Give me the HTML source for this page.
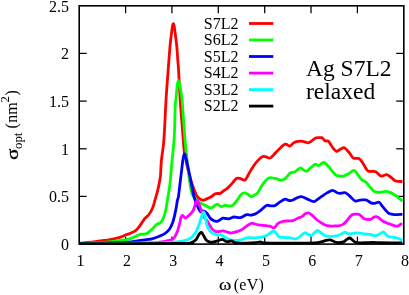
<!DOCTYPE html>
<html><head><meta charset="utf-8"><title>chart</title>
<style>
html,body{margin:0;padding:0;background:#fff;}
body{width:409px;height:295px;overflow:hidden;position:relative;font-family:"Liberation Serif",serif;}
</style></head><body>
<svg width="409" height="295" viewBox="0 0 409 295" style="position:absolute;left:0;top:0;will-change:transform;transform:translateZ(0)">
<g stroke="#000" stroke-width="1.25" fill="none">
<line x1="125.6" y1="244.1" x2="125.6" y2="236.6"/>
<line x1="125.6" y1="5.8" x2="125.6" y2="13.2"/>
<line x1="171.9" y1="244.1" x2="171.9" y2="236.6"/>
<line x1="171.9" y1="5.8" x2="171.9" y2="13.2"/>
<line x1="218.3" y1="244.1" x2="218.3" y2="236.6"/>
<line x1="218.3" y1="5.8" x2="218.3" y2="13.2"/>
<line x1="264.7" y1="244.1" x2="264.7" y2="236.6"/>
<line x1="264.7" y1="5.8" x2="264.7" y2="13.2"/>
<line x1="311.0" y1="244.1" x2="311.0" y2="236.6"/>
<line x1="311.0" y1="5.8" x2="311.0" y2="13.2"/>
<line x1="357.4" y1="244.1" x2="357.4" y2="236.6"/>
<line x1="357.4" y1="5.8" x2="357.4" y2="13.2"/>
<line x1="79.2" y1="196.4" x2="86.7" y2="196.4"/>
<line x1="403.8" y1="196.4" x2="396.2" y2="196.4"/>
<line x1="79.2" y1="148.8" x2="86.7" y2="148.8"/>
<line x1="403.8" y1="148.8" x2="396.2" y2="148.8"/>
<line x1="79.2" y1="101.1" x2="86.7" y2="101.1"/>
<line x1="403.8" y1="101.1" x2="396.2" y2="101.1"/>
<line x1="79.2" y1="53.4" x2="86.7" y2="53.4"/>
<line x1="403.8" y1="53.4" x2="396.2" y2="53.4"/>
</g>
<g fill="none" stroke-width="2.8" stroke-linejoin="round" stroke-linecap="butt">
<path d="M79.60,243.26 C81.00,243.13 85.10,242.81 88.00,242.50 C90.90,242.19 93.05,241.92 97.00,241.40 C100.95,240.88 107.78,240.10 111.70,239.40 C115.62,238.70 118.07,237.98 120.50,237.20 C122.93,236.42 124.72,235.33 126.30,234.70 C127.88,234.07 128.40,234.13 130.00,233.40 C131.60,232.67 134.18,231.67 135.90,230.30 C137.62,228.93 138.83,227.13 140.30,225.20 C141.77,223.27 143.23,220.52 144.70,218.70 C146.17,216.88 147.77,216.13 149.10,214.30 C150.43,212.47 151.73,210.02 152.70,207.70 C153.67,205.38 154.15,202.95 154.90,200.40 C155.65,197.85 156.48,195.23 157.20,192.40 C157.92,189.57 158.65,186.23 159.20,183.40 C159.75,180.57 160.13,179.23 160.50,175.40 C160.87,171.57 160.90,165.57 161.40,160.40 C161.90,155.23 162.98,149.40 163.50,144.40 C164.02,139.40 164.08,137.73 164.50,130.40 C164.92,123.07 165.47,109.40 166.00,100.40 C166.53,91.40 167.03,85.40 167.70,76.40 C168.37,67.40 169.37,53.57 170.00,46.40 C170.63,39.23 171.08,36.82 171.50,33.40 C171.92,29.98 172.20,27.53 172.50,25.90 C172.80,24.27 173.02,23.60 173.30,23.60 C173.58,23.60 173.88,24.27 174.20,25.90 C174.52,27.53 174.77,29.98 175.20,33.40 C175.63,36.82 176.37,41.90 176.80,46.40 C177.23,50.90 177.50,56.40 177.80,60.40 C178.10,64.40 178.20,63.73 178.60,70.40 C179.00,77.07 179.70,92.40 180.20,100.40 C180.70,108.40 181.13,112.40 181.60,118.40 C182.07,124.40 182.53,130.73 183.00,136.40 C183.47,142.07 183.73,147.57 184.40,152.40 C185.07,157.23 186.07,161.23 187.00,165.40 C187.93,169.57 188.77,173.20 190.00,177.40 C191.23,181.60 193.15,187.33 194.40,190.60 C195.65,193.87 196.17,195.40 197.50,197.00 C198.83,198.60 200.87,199.88 202.40,200.20 C203.93,200.52 205.17,199.52 206.70,198.90 C208.23,198.28 210.18,197.35 211.60,196.50 C213.02,195.65 214.00,194.30 215.20,193.80 C216.40,193.30 218.00,193.53 218.80,193.50 C219.60,193.47 218.97,194.20 220.00,193.60 C221.03,193.00 223.73,190.82 225.00,189.90 C226.27,188.98 226.33,189.27 227.60,188.10 C228.87,186.93 231.13,184.50 232.60,182.90 C234.07,181.30 235.17,179.25 236.40,178.50 C237.63,177.75 238.55,178.15 240.00,178.40 C241.45,178.65 243.60,180.83 245.10,180.00 C246.60,179.17 247.53,175.82 249.00,173.40 C250.47,170.98 252.40,167.67 253.90,165.50 C255.40,163.33 256.62,161.87 258.00,160.40 C259.38,158.93 260.87,157.28 262.20,156.70 C263.53,156.12 264.67,156.68 266.00,156.90 C267.33,157.12 268.87,158.42 270.20,158.00 C271.53,157.58 272.53,155.87 274.00,154.40 C275.47,152.93 277.13,150.90 279.00,149.20 C280.87,147.50 283.42,144.70 285.20,144.20 C286.98,143.70 288.40,146.33 289.70,146.20 C291.00,146.07 291.90,144.15 293.00,143.40 C294.10,142.65 294.98,142.08 296.30,141.70 C297.62,141.32 299.53,141.08 300.90,141.10 C302.27,141.12 303.28,141.50 304.50,141.80 C305.72,142.10 307.03,143.03 308.20,142.90 C309.37,142.77 310.27,141.82 311.50,141.00 C312.73,140.18 314.43,138.57 315.60,138.00 C316.77,137.43 317.48,137.65 318.50,137.60 C319.52,137.55 320.87,137.43 321.70,137.70 C322.53,137.97 322.90,138.67 323.50,139.20 C324.10,139.73 324.48,140.58 325.30,140.90 C326.12,141.22 327.53,140.55 328.40,141.10 C329.27,141.65 329.78,143.12 330.50,144.20 C331.22,145.28 331.73,146.42 332.70,147.60 C333.67,148.78 335.28,150.87 336.30,151.30 C337.32,151.73 337.98,150.62 338.80,150.20 C339.62,149.78 340.28,149.22 341.20,148.80 C342.12,148.38 343.00,147.10 344.30,147.70 C345.60,148.30 347.48,150.67 349.00,152.40 C350.52,154.13 351.73,157.07 353.40,158.10 C355.07,159.13 357.40,157.72 359.00,158.60 C360.60,159.48 361.55,161.37 363.00,163.40 C364.45,165.43 366.20,169.47 367.70,170.80 C369.20,172.13 370.65,171.23 372.00,171.40 C373.35,171.57 374.25,171.02 375.80,171.80 C377.35,172.58 379.47,175.63 381.30,176.10 C383.13,176.57 385.18,174.38 386.80,174.60 C388.42,174.82 389.52,176.33 391.00,177.40 C392.48,178.47 393.80,180.32 395.70,181.00 C397.60,181.68 401.28,181.42 402.40,181.50" stroke="#ff0000"/>
<path d="M79.60,243.52 C82.50,243.39 91.65,243.05 97.00,242.75 C102.35,242.46 107.30,242.21 111.70,241.74 C116.10,241.26 120.35,240.39 123.40,239.90 C126.45,239.41 127.92,239.40 130.00,238.80 C132.08,238.20 134.18,237.03 135.90,236.30 C137.62,235.57 138.60,234.82 140.30,234.40 C142.00,233.98 144.15,234.63 146.10,233.80 C148.05,232.97 150.28,230.93 152.00,229.40 C153.72,227.87 154.93,225.77 156.40,224.60 C157.87,223.43 159.58,223.62 160.80,222.40 C162.02,221.18 162.85,219.50 163.70,217.30 C164.55,215.10 165.28,212.02 165.90,209.20 C166.52,206.38 166.93,203.20 167.40,200.40 C167.87,197.60 168.27,195.23 168.70,192.40 C169.13,189.57 169.53,187.73 170.00,183.40 C170.47,179.07 171.15,170.23 171.50,166.40 C171.85,162.57 171.63,165.40 172.10,160.40 C172.57,155.40 173.78,145.40 174.30,136.40 C174.82,127.40 174.95,112.40 175.20,106.40 C175.45,100.40 175.50,103.48 175.80,100.40 C176.10,97.32 176.67,90.90 177.00,87.90 C177.33,84.90 177.55,83.60 177.80,82.40 C178.05,81.20 178.25,80.70 178.50,80.70 C178.75,80.70 179.00,81.20 179.30,82.40 C179.60,83.60 179.83,84.90 180.30,87.90 C180.77,90.90 181.37,92.32 182.10,100.40 C182.83,108.48 184.02,127.73 184.70,136.40 C185.38,145.07 185.60,146.73 186.20,152.40 C186.80,158.07 187.63,164.90 188.30,170.40 C188.97,175.90 189.48,181.27 190.20,185.40 C190.92,189.53 191.58,192.75 192.60,195.20 C193.62,197.65 194.77,198.68 196.30,200.10 C197.83,201.52 200.07,202.68 201.80,203.70 C203.53,204.72 205.17,205.48 206.70,206.20 C208.23,206.92 209.48,208.25 211.00,208.00 C212.52,207.75 214.70,205.33 215.80,204.70 C216.90,204.07 216.68,203.87 217.60,204.20 C218.52,204.53 220.07,206.50 221.30,206.70 C222.53,206.90 223.72,205.53 225.00,205.40 C226.28,205.27 227.73,205.90 229.00,205.90 C230.27,205.90 231.27,206.32 232.60,205.40 C233.93,204.48 235.53,202.27 237.00,200.40 C238.47,198.53 240.05,195.45 241.40,194.20 C242.75,192.95 244.00,192.87 245.10,192.90 C246.20,192.93 246.95,193.77 248.00,194.40 C249.05,195.03 250.23,196.67 251.40,196.70 C252.57,196.73 253.95,195.23 255.00,194.60 C256.05,193.97 256.42,194.62 257.70,192.90 C258.98,191.18 260.83,186.78 262.70,184.30 C264.57,181.82 267.02,179.00 268.90,178.00 C270.78,177.00 272.73,178.20 274.00,178.30 C275.27,178.40 275.47,178.28 276.50,178.60 C277.53,178.92 279.12,180.00 280.20,180.20 C281.28,180.40 282.15,180.07 283.00,179.80 C283.85,179.53 284.50,179.27 285.30,178.60 C286.10,177.93 286.98,176.73 287.80,175.80 C288.62,174.87 289.00,173.67 290.20,173.00 C291.40,172.33 293.37,172.63 295.00,171.80 C296.63,170.97 298.67,168.40 300.00,168.00 C301.33,167.60 301.95,168.85 303.00,169.40 C304.05,169.95 304.97,171.63 306.30,171.30 C307.63,170.97 309.53,168.57 311.00,167.40 C312.47,166.23 313.80,164.62 315.10,164.30 C316.40,163.98 317.35,165.80 318.80,165.50 C320.25,165.20 322.13,162.28 323.80,162.50 C325.47,162.72 327.43,165.40 328.80,166.80 C330.17,168.20 330.83,169.50 332.00,170.90 C333.17,172.30 334.55,174.35 335.80,175.20 C337.05,176.05 338.22,175.85 339.50,176.00 C340.78,176.15 341.92,176.53 343.50,176.10 C345.08,175.67 347.23,174.37 349.00,173.40 C350.77,172.43 352.60,170.05 354.10,170.30 C355.60,170.55 356.70,173.28 358.00,174.90 C359.30,176.52 360.62,178.83 361.90,180.00 C363.18,181.17 364.43,180.83 365.70,181.90 C366.97,182.97 368.20,184.88 369.50,186.40 C370.80,187.92 372.20,190.02 373.50,191.00 C374.80,191.98 376.05,192.10 377.30,192.30 C378.55,192.50 379.55,192.35 381.00,192.20 C382.45,192.05 384.50,191.37 386.00,191.40 C387.50,191.43 388.72,191.92 390.00,192.40 C391.28,192.88 392.37,193.47 393.70,194.30 C395.03,195.13 396.55,196.28 398.00,197.40 C399.45,198.52 401.67,200.40 402.40,201.00" stroke="#00ff00"/>
<path d="M79.60,243.60 C86.17,243.46 110.60,243.01 119.00,242.75 C127.40,242.50 126.70,242.42 130.00,242.08 C133.30,241.73 136.12,241.10 138.80,240.70 C141.48,240.30 143.90,240.02 146.10,239.70 C148.30,239.38 149.80,239.37 152.00,238.80 C154.20,238.23 157.10,237.20 159.30,236.30 C161.50,235.40 163.48,234.62 165.20,233.40 C166.92,232.18 168.38,230.72 169.60,229.00 C170.82,227.28 171.65,225.42 172.50,223.10 C173.35,220.78 174.08,217.67 174.70,215.10 C175.32,212.53 175.75,210.15 176.20,207.70 C176.65,205.25 177.02,202.28 177.40,200.40 C177.78,198.52 178.10,198.90 178.50,196.40 C178.90,193.90 179.38,188.90 179.80,185.40 C180.22,181.90 180.62,178.57 181.00,175.40 C181.38,172.23 181.80,168.90 182.10,166.40 C182.40,163.90 182.58,161.90 182.80,160.40 C183.02,158.90 183.22,158.30 183.40,157.40 C183.58,156.50 183.70,155.60 183.90,155.00 C184.10,154.40 184.38,153.83 184.60,153.80 C184.82,153.77 185.02,154.20 185.20,154.80 C185.38,155.40 185.47,156.47 185.70,157.40 C185.93,158.33 186.25,158.90 186.60,160.40 C186.95,161.90 187.25,163.73 187.80,166.40 C188.35,169.07 189.25,173.23 189.90,176.40 C190.55,179.57 191.10,182.40 191.70,185.40 C192.30,188.40 192.90,191.82 193.50,194.40 C194.10,196.98 194.63,198.93 195.30,200.90 C195.97,202.87 196.62,204.40 197.50,206.20 C198.38,208.00 199.68,210.92 200.60,211.70 C201.52,212.48 201.98,210.70 203.00,210.90 C204.02,211.10 205.48,211.68 206.70,212.90 C207.92,214.12 209.08,216.90 210.30,218.20 C211.52,219.50 212.95,220.18 214.00,220.70 C215.05,221.22 215.63,221.42 216.60,221.30 C217.57,221.18 218.78,220.52 219.80,220.00 C220.82,219.48 221.70,218.45 222.70,218.20 C223.70,217.95 224.78,218.40 225.80,218.50 C226.82,218.60 227.85,218.93 228.80,218.80 C229.75,218.67 230.68,218.00 231.50,217.70 C232.32,217.40 232.78,217.05 233.70,217.00 C234.62,216.95 235.87,217.30 237.00,217.40 C238.13,217.50 239.42,217.80 240.50,217.60 C241.58,217.40 242.48,216.70 243.50,216.20 C244.52,215.70 245.73,214.83 246.60,214.60 C247.47,214.37 248.00,214.70 248.70,214.80 C249.40,214.90 250.08,215.23 250.80,215.20 C251.52,215.17 252.27,214.80 253.00,214.60 C253.73,214.40 254.03,214.62 255.20,214.00 C256.37,213.38 258.13,212.32 260.00,210.90 C261.87,209.48 264.57,206.33 266.40,205.50 C268.23,204.67 269.53,205.90 271.00,205.90 C272.47,205.90 273.70,206.17 275.20,205.50 C276.70,204.83 278.33,202.95 280.00,201.90 C281.67,200.85 283.78,199.45 285.20,199.20 C286.62,198.95 287.45,200.18 288.50,200.40 C289.55,200.62 290.25,200.83 291.50,200.50 C292.75,200.17 294.37,199.03 296.00,198.40 C297.63,197.77 299.47,196.62 301.30,196.70 C303.13,196.78 304.92,198.07 307.00,198.90 C309.08,199.73 312.05,201.62 313.80,201.70 C315.55,201.78 316.25,200.23 317.50,199.40 C318.75,198.57 319.72,197.78 321.30,196.70 C322.88,195.62 325.12,193.95 327.00,192.90 C328.88,191.85 330.82,190.38 332.60,190.40 C334.38,190.42 336.22,192.53 337.70,193.00 C339.18,193.47 340.20,193.25 341.50,193.20 C342.80,193.15 344.08,192.17 345.50,192.70 C346.92,193.23 348.40,195.02 350.00,196.40 C351.60,197.78 353.45,200.38 355.10,201.00 C356.75,201.62 358.58,200.28 359.90,200.10 C361.22,199.92 361.98,199.93 363.00,199.90 C364.02,199.87 365.08,199.68 366.00,199.90 C366.92,200.12 367.68,200.70 368.50,201.20 C369.32,201.70 369.88,202.55 370.90,202.90 C371.92,203.25 373.28,203.43 374.60,203.30 C375.92,203.17 377.73,201.92 378.80,202.10 C379.87,202.28 380.28,203.55 381.00,204.40 C381.72,205.25 381.93,205.82 383.10,207.20 C384.27,208.58 386.68,211.57 388.00,212.70 C389.32,213.83 389.98,213.68 391.00,214.00 C392.02,214.32 392.20,214.55 394.10,214.60 C396.00,214.65 401.02,214.35 402.40,214.30" stroke="#0000ff"/>
<path d="M79.60,243.60 C91.33,243.49 136.72,243.15 150.00,242.92 C163.28,242.70 156.28,242.63 159.30,242.25 C162.32,241.86 165.77,241.17 168.10,240.60 C170.43,240.03 171.95,239.88 173.30,238.80 C174.65,237.72 175.35,235.85 176.20,234.10 C177.05,232.35 177.78,230.25 178.40,228.30 C179.02,226.35 179.47,224.23 179.90,222.40 C180.33,220.57 180.57,218.45 181.00,217.30 C181.43,216.15 181.83,215.38 182.50,215.50 C183.17,215.62 184.22,217.78 185.00,218.00 C185.78,218.22 186.42,217.33 187.20,216.80 C187.98,216.27 188.70,215.85 189.70,214.80 C190.70,213.75 192.32,212.07 193.20,210.50 C194.08,208.93 194.58,206.73 195.00,205.40 C195.42,204.07 195.37,203.23 195.70,202.50 C196.03,201.77 196.62,201.15 197.00,201.00 C197.38,200.85 197.62,200.93 198.00,201.60 C198.38,202.27 198.77,203.63 199.30,205.00 C199.83,206.37 200.58,207.97 201.20,209.80 C201.82,211.63 202.08,214.30 203.00,216.00 C203.92,217.70 205.75,218.73 206.70,220.00 C207.65,221.27 207.77,222.08 208.70,223.60 C209.63,225.12 211.08,227.77 212.30,229.10 C213.52,230.43 214.80,231.22 216.00,231.60 C217.20,231.98 218.28,231.52 219.50,231.40 C220.72,231.28 222.05,230.80 223.30,230.90 C224.55,231.00 225.77,231.65 227.00,232.00 C228.23,232.35 229.57,232.93 230.70,233.00 C231.83,233.07 232.78,232.63 233.80,232.40 C234.82,232.17 235.48,232.05 236.80,231.60 C238.12,231.15 240.07,230.62 241.70,229.70 C243.33,228.78 245.30,227.00 246.60,226.10 C247.90,225.20 248.58,224.78 249.50,224.30 C250.42,223.82 251.22,223.25 252.10,223.20 C252.98,223.15 253.73,223.73 254.80,224.00 C255.87,224.27 257.25,224.58 258.50,224.80 C259.75,225.02 261.05,225.15 262.30,225.30 C263.55,225.45 264.77,225.55 266.00,225.70 C267.23,225.85 268.70,225.95 269.70,226.20 C270.70,226.45 271.30,226.92 272.00,227.20 C272.70,227.48 273.27,228.07 273.90,227.90 C274.53,227.73 275.18,226.90 275.80,226.20 C276.42,225.50 276.87,224.37 277.60,223.70 C278.33,223.03 279.28,222.60 280.20,222.20 C281.12,221.80 281.80,221.52 283.10,221.30 C284.40,221.08 286.37,221.02 288.00,220.90 C289.63,220.78 291.65,220.85 292.90,220.60 C294.15,220.35 294.68,219.80 295.50,219.40 C296.32,219.00 296.97,218.57 297.80,218.20 C298.63,217.83 299.68,217.53 300.50,217.20 C301.32,216.87 301.98,216.72 302.70,216.20 C303.42,215.68 303.78,214.63 304.80,214.10 C305.82,213.57 307.52,212.75 308.80,213.00 C310.08,213.25 311.25,214.57 312.50,215.60 C313.75,216.63 314.97,218.07 316.30,219.20 C317.63,220.33 319.03,221.43 320.50,222.40 C321.97,223.37 323.60,224.40 325.10,225.00 C326.60,225.60 328.03,225.83 329.50,226.00 C330.97,226.17 332.20,226.07 333.90,226.00 C335.60,225.93 338.18,225.87 339.70,225.60 C341.22,225.33 342.03,224.95 343.00,224.40 C343.97,223.85 344.50,223.38 345.50,222.30 C346.50,221.22 347.88,219.17 349.00,217.90 C350.12,216.63 351.20,215.33 352.20,214.70 C353.20,214.07 354.12,214.18 355.00,214.10 C355.88,214.02 356.68,214.07 357.50,214.20 C358.32,214.33 359.15,214.45 359.90,214.90 C360.65,215.35 361.28,216.25 362.00,216.90 C362.72,217.55 363.37,218.38 364.20,218.80 C365.03,219.22 365.98,219.30 367.00,219.40 C368.02,219.50 369.38,219.60 370.30,219.40 C371.22,219.20 371.78,218.62 372.50,218.20 C373.22,217.78 373.75,217.10 374.60,216.90 C375.45,216.70 376.65,216.65 377.60,217.00 C378.55,217.35 379.38,218.28 380.30,219.00 C381.22,219.72 381.98,220.63 383.10,221.30 C384.22,221.97 385.77,222.50 387.00,223.00 C388.23,223.50 389.42,223.90 390.50,224.30 C391.58,224.70 392.48,225.08 393.50,225.40 C394.52,225.72 395.72,226.20 396.60,226.20 C397.48,226.20 398.10,225.73 398.80,225.40 C399.50,225.07 400.20,224.47 400.80,224.20 C401.40,223.93 402.13,223.87 402.40,223.80" stroke="#ff00ff"/>
<path d="M79.50,243.60 C91.25,243.54 134.92,243.46 150.00,243.26 C165.08,243.06 164.63,242.78 170.00,242.42 C175.37,242.06 178.93,241.72 182.20,241.10 C185.47,240.48 187.57,239.82 189.60,238.70 C191.63,237.58 192.98,236.33 194.40,234.40 C195.82,232.47 197.07,229.55 198.10,227.10 C199.13,224.65 199.85,221.95 200.60,219.70 C201.35,217.45 202.10,214.88 202.60,213.60 C203.10,212.32 203.27,212.00 203.60,212.00 C203.93,212.00 204.28,212.52 204.60,213.60 C204.92,214.68 205.03,216.32 205.50,218.50 C205.97,220.68 206.47,224.42 207.40,226.70 C208.33,228.98 209.67,230.88 211.10,232.20 C212.53,233.52 214.37,234.17 216.00,234.60 C217.63,235.03 219.47,234.38 220.90,234.80 C222.33,235.22 223.18,236.32 224.60,237.10 C226.02,237.88 227.57,238.95 229.40,239.50 C231.23,240.05 233.55,240.40 235.60,240.40 C237.65,240.40 239.67,239.95 241.70,239.50 C243.73,239.05 245.62,237.97 247.80,237.70 C249.98,237.43 253.10,237.92 254.80,237.90 C256.50,237.88 256.95,237.73 258.00,237.60 C259.05,237.47 260.18,237.27 261.10,237.10 C262.02,236.93 262.68,236.82 263.50,236.60 C264.32,236.38 265.00,236.30 266.00,235.80 C267.00,235.30 268.58,234.23 269.50,233.60 C270.42,232.97 270.87,232.45 271.50,232.00 C272.13,231.55 272.68,230.90 273.30,230.90 C273.92,230.90 274.55,231.38 275.20,232.00 C275.85,232.62 276.50,233.75 277.20,234.60 C277.90,235.45 278.27,236.62 279.40,237.10 C280.53,237.58 282.37,237.40 284.00,237.50 C285.63,237.60 287.78,237.55 289.20,237.70 C290.62,237.85 291.48,238.20 292.50,238.40 C293.52,238.60 294.38,238.97 295.30,238.90 C296.22,238.83 297.18,238.42 298.00,238.00 C298.82,237.58 299.45,237.00 300.20,236.40 C300.95,235.80 301.73,235.03 302.50,234.40 C303.27,233.77 303.88,232.63 304.80,232.60 C305.72,232.57 306.92,233.72 308.00,234.20 C309.08,234.68 310.22,235.77 311.30,235.50 C312.38,235.23 313.45,233.43 314.50,232.60 C315.55,231.77 316.52,230.45 317.60,230.50 C318.68,230.55 319.75,232.08 321.00,232.90 C322.25,233.72 323.85,234.83 325.10,235.40 C326.35,235.97 327.25,236.13 328.50,236.30 C329.75,236.47 331.27,236.47 332.60,236.40 C333.93,236.33 335.18,236.20 336.50,235.90 C337.82,235.60 339.20,235.20 340.50,234.60 C341.80,234.00 343.22,232.53 344.30,232.30 C345.38,232.07 346.13,232.92 347.00,233.20 C347.87,233.48 348.50,233.97 349.50,234.00 C350.50,234.03 351.75,233.58 353.00,233.40 C354.25,233.22 355.67,232.90 357.00,232.90 C358.33,232.90 359.70,233.22 361.00,233.40 C362.30,233.58 363.27,233.82 364.80,234.00 C366.33,234.18 368.40,234.23 370.20,234.50 C372.00,234.77 374.05,235.68 375.60,235.60 C377.15,235.52 378.22,234.60 379.50,234.00 C380.78,233.40 382.28,232.02 383.30,232.00 C384.32,231.98 384.78,233.17 385.60,233.90 C386.42,234.63 387.13,235.87 388.20,236.40 C389.27,236.93 390.75,236.88 392.00,237.10 C393.25,237.32 394.53,237.42 395.70,237.70 C396.87,237.98 397.88,238.38 399.00,238.80 C400.12,239.22 401.83,239.97 402.40,240.20" stroke="#00ffff"/>
<path d="M79.50,243.60 C96.62,243.57 163.65,243.57 182.20,243.43 C200.75,243.29 188.55,243.34 190.80,242.75 C193.05,242.17 194.38,241.19 195.70,239.90 C197.02,238.61 197.92,236.18 198.70,235.00 C199.48,233.82 199.98,233.23 200.40,232.80 C200.82,232.37 200.93,232.40 201.20,232.40 C201.47,232.40 201.60,232.27 202.00,232.80 C202.40,233.33 202.92,234.42 203.60,235.60 C204.28,236.78 205.28,238.91 206.10,239.90 C206.92,240.89 207.47,241.18 208.50,241.57 C209.53,241.96 210.85,242.36 212.30,242.25 C213.75,242.13 215.57,241.39 217.20,240.90 C218.83,240.41 220.88,239.35 222.10,239.30 C223.32,239.25 223.68,240.21 224.50,240.60 C225.32,240.99 226.22,241.52 227.00,241.65 C227.78,241.79 228.48,241.53 229.20,241.40 C229.92,241.27 230.58,240.82 231.30,240.90 C232.02,240.98 232.78,241.60 233.50,241.91 C234.22,242.22 234.23,242.56 235.60,242.75 C236.97,242.95 240.13,243.04 241.70,243.09 C243.27,243.15 242.78,243.15 245.00,243.09 C247.22,243.04 252.47,242.95 255.00,242.75 C257.53,242.56 258.70,241.88 260.20,241.91 C261.70,241.94 260.70,242.73 264.00,242.92 C267.30,243.12 274.00,243.06 280.00,243.09 C286.00,243.12 294.17,243.12 300.00,243.09 C305.83,243.06 311.45,243.12 315.00,242.92 C318.55,242.73 319.47,242.33 321.30,241.91 C323.13,241.49 324.53,240.73 326.00,240.40 C327.47,240.07 328.85,239.75 330.10,239.90 C331.35,240.05 332.45,240.88 333.50,241.30 C334.55,241.72 335.32,242.22 336.40,242.42 C337.48,242.62 338.82,242.58 340.00,242.50 C341.18,242.42 342.42,242.37 343.50,241.91 C344.58,241.44 345.50,240.35 346.50,239.70 C347.50,239.05 348.58,238.02 349.50,238.00 C350.42,237.98 351.20,238.99 352.00,239.60 C352.80,240.21 353.47,241.14 354.30,241.65 C355.13,242.17 355.22,242.49 357.00,242.67 C358.78,242.85 362.38,242.81 365.00,242.75 C367.62,242.70 370.20,242.33 372.70,242.33 C375.20,242.33 377.12,242.66 380.00,242.75 C382.88,242.85 386.27,242.89 390.00,242.92 C393.73,242.95 400.33,242.92 402.40,242.92" stroke="#000000"/>
</g>
<line x1="249" y1="23.5" x2="273.3" y2="23.5" stroke="#ff0000" stroke-width="2.8"/>
<line x1="249" y1="40.0" x2="273.3" y2="40.0" stroke="#00ff00" stroke-width="2.8"/>
<line x1="249" y1="56.5" x2="273.3" y2="56.5" stroke="#0000ff" stroke-width="2.8"/>
<line x1="249" y1="73.1" x2="273.3" y2="73.1" stroke="#ff00ff" stroke-width="2.8"/>
<line x1="249" y1="89.6" x2="273.3" y2="89.6" stroke="#00ffff" stroke-width="2.8"/>
<line x1="249" y1="106.1" x2="273.3" y2="106.1" stroke="#000000" stroke-width="2.8"/>
<rect x="79.2" y="5.8" width="324.6" height="238.3" stroke="#000" stroke-width="1.6" fill="none"/>
<g font-family="'Liberation Serif', serif" font-size="16" fill="#000">
<text x="69" y="249.9" text-anchor="end">0</text>
<text x="69" y="202.2" text-anchor="end">0.5</text>
<text x="69" y="154.6" text-anchor="end">1</text>
<text x="69" y="106.9" text-anchor="end">1.5</text>
<text x="69" y="59.2" text-anchor="end">2</text>
<text x="69" y="11.6" text-anchor="end">2.5</text>
<text x="80.5" y="266.3" text-anchor="middle">1</text>
<text x="126.9" y="266.3" text-anchor="middle">2</text>
<text x="173.2" y="266.3" text-anchor="middle">3</text>
<text x="219.6" y="266.3" text-anchor="middle">4</text>
<text x="266.0" y="266.3" text-anchor="middle">5</text>
<text x="312.3" y="266.3" text-anchor="middle">6</text>
<text x="358.7" y="266.3" text-anchor="middle">7</text>
<text x="405.1" y="266.3" text-anchor="middle">8</text>
<text x="203.8" y="28.7">S7L2</text>
<text x="203.8" y="45.2">S6L2</text>
<text x="203.8" y="61.7">S5L2</text>
<text x="203.8" y="78.3">S4L2</text>
<text x="203.8" y="94.8">S3L2</text>
<text x="203.8" y="111.3">S2L2</text>
<text transform="translate(219.0,290.1) scale(1.17,1)" stroke="#000" stroke-width="0.15">ω</text>
<text x="233.7" y="290.1" letter-spacing="0.3">(eV)</text>
<g transform="translate(17.5,159.8) rotate(-90)"><text x="0.0" y="0" font-size="17" transform="scale(1.22,1)" stroke="#000" stroke-width="0.35">σ</text><text x="10.8" y="4.3" font-size="12.8">opt</text><text x="31.2" y="-0.5">(</text><text x="37.0" y="-0.5">nm</text><text x="57.2" y="-8.3" font-size="12.8">2</text><text x="64.3" y="-0.5">)</text></g>
</g>
<g font-family="'Liberation Serif', serif" font-size="23.5" fill="#000">
<text x="306" y="76.4">Ag S7L2</text>
<text x="306" y="98.8">relaxed</text>
</g>
</svg>
</body></html>
